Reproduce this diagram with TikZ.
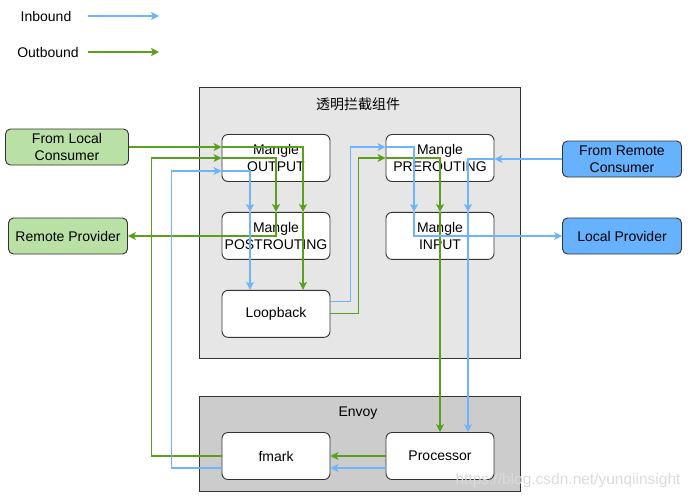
\documentclass[tikz,border=0pt]{standalone}
\usepackage{fontspec}
\setmainfont{Liberation Sans}
\newfontfamily\cjkfont{Noto Sans CJK SC}
\usetikzlibrary{positioning,arrows.meta}
\definecolor{inblue}{RGB}{110,180,250}
\definecolor{outgreen}{RGB}{90,160,30}
\definecolor{greenfill}{RGB}{185,224,165}
\definecolor{bluefill}{RGB}{102,178,255}
\definecolor{framegray}{RGB}{230,230,230}
\definecolor{envoygray}{RGB}{204,204,204}
\definecolor{edgegray}{RGB}{51,51,51}

\begin{document}
\begin{tikzpicture}[x=1pt, y=-1pt, node distance=30pt,
    font=\fontsize{14}{17}\selectfont,
    box/.style={draw=edgegray, line width=0.9pt, fill=white, rounded corners=6pt,
        minimum width=108pt, minimum height=47pt, align=center, inner sep=1pt},
    ext/.style={draw=edgegray, line width=0.9pt, rounded corners=5pt,
        minimum width=121pt, minimum height=36pt, align=center, inner sep=1pt},
    frame/.style={draw=edgegray, line width=0.8pt},
    inb/.style={draw=inblue, line width=1.1pt, -{Stealth[length=8pt,width=8pt,inset=2pt]}},
    outb/.style={draw=outgreen, line width=1.1pt, -{Stealth[length=8pt,width=8pt,inset=2pt]}}]
    \useasboundingbox (0,0) rectangle (692,499);

    % frames
    \draw[frame, fill=framegray] (199,87) rectangle (520,358);
    \draw[frame, fill=envoygray] (199,396) rectangle (520,491);
    \node(tp) at (358,104) {\cjkfont\fontsize{14}{16}\selectfont 透明拦截组件};
    \node(ev) at (358,413) {Envoy};

    % legend
    \node(inT) at (46,16) {Inbound};
    \node(outT) at (48,52) {Outbound};
    \coordinate(inA) at (88,16);
    \coordinate(inB) at (159,16);
    \coordinate(outA) at (88,52);
    \coordinate(outB) at (159,52);

    % chains
    \node(out) [box] at (276,158) {Mangle\\OUTPUT};
    \node(post) [box, below=of out] {Mangle\\POSTROUTING};
    \node(loop) [box, below=of post] {Loopback};
    \node(pre) [box] at (440,158) {Mangle\\PREROUTING};
    \node(input) [box, below=of pre] {Mangle\\INPUT};
    \node(fm) [box] at (276,456) {fmark};
    \node(proc) [box] at (440,456) {Processor};

    % endpoints
    \node(lc) [ext, fill=greenfill, minimum width=123pt] at (67,147) {From Local\\Consumer};
    \node(rp) [ext, fill=greenfill, minimum width=119pt] at (68,236) {Remote Provider};
    \node(rc) [ext, fill=bluefill, minimum width=119pt] at (622,159) {From Remote\\Consumer};
    \node(lp) [ext, fill=bluefill, minimum width=119pt] at (622,236) {Local Provider};

    % lanes
    \coordinate(oL) at ([xshift=-26pt]out.south);
    \coordinate(oR) at ([xshift=27pt]out.south);
    \coordinate(pL) at ([xshift=-26pt]pre.south);
    \coordinate(pR) at ([xshift=28pt]pre.south);

    \draw[inb] (inA) -- (inB);
    \draw[outb] (outA) -- (outB);

    % outbound
    \draw[outb] (lc.east) -- (lc.east -| out.west);
    \draw[outb] (lc.east -| out.west) -| (post.north -| oR);
    \draw[outb] (post.north -| oR) -- (loop.north -| oR);
    \draw[outb] (fm.west) -- ++(-70,0) |- (out.west);
    \draw[outb] (out.west) -| (post.north);
    \draw[outb] (post.north) |- (rp.east);
    \draw[outb] (loop.east) -- ++(28,0) |- (pre.west);
    \draw[outb] (pre.west) -| (input.north);
    \draw[outb] (input.north) -- (proc.north);
    \draw[outb] (proc.west) -- (fm.east);

    % inbound
    \draw[inb] (rc.west) -- (rc.west -| pre.east);
    \draw[inb] (rc.west -| pre.east) -| (input.north -| pR);
    \draw[inb] (input.north -| pR) -- (proc.north -| pR);
    \draw[inb] ([yshift=12pt]loop.east) -- ++(20,0) |- ([yshift=11pt]pre.west);
    \draw[inb] ([yshift=11pt]pre.west) -| (input.north -| pL);
    \draw[inb] (input.north -| pL) |- (lp.west);
    \draw[inb] ([yshift=-12pt]proc.west) -- ([yshift=-12pt]fm.east);
    \draw[inb] ([yshift=-12pt]fm.west) -- ++(-50,0) |- ([yshift=-13pt]out.west);
    \draw[inb] ([yshift=-13pt]out.west) -| (post.north -| oL);
    \draw[inb] (post.north -| oL) -- (loop.north -| oL);

    \node(wm) [text=black!14, anchor=east, font=\fontsize{15.5}{18}\selectfont] at (684,480) {https://blog.csdn.net/yunqiinsight};
\end{tikzpicture}
\end{document}
